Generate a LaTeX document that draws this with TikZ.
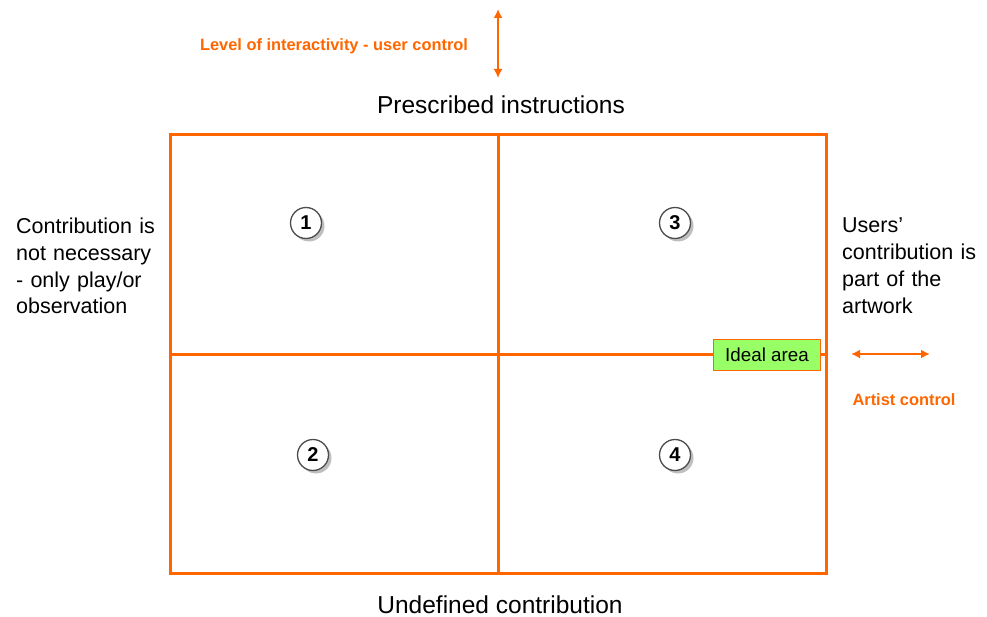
\documentclass[tikz,border=0pt]{standalone}
\usepackage{fontspec}
\setmainfont{Liberation Sans}
\usetikzlibrary{positioning,shadows,arrows.meta}
\definecolor{orng}{RGB}{255,102,0}
\definecolor{idealgreen}{RGB}{153,255,102}
\tikzstyle{grid} = [orng, line width = 3pt]
\tikzstyle{arrow} = [orng, line width = 2.5pt, {Latex[length=9pt,width=9pt]}-{Latex[length=9pt,width=9pt]}]
\tikzstyle{label} = [font = \fontsize{21.5}{26.7}\selectfont, align = left, text width = 160pt, anchor = north west, inner sep = 0pt]
\tikzstyle{title} = [font = \fontsize{24.5}{28}\selectfont, inner sep = 0pt]
\tikzstyle{ctrl} = [orng, font = \bfseries\fontsize{16.4}{19}\selectfont, inner sep = 0pt]
\tikzstyle{num} = [circle, draw = black!70, fill = white, line width = 1.3pt, minimum size = 31pt, inner sep = 0pt, font = \bfseries\fontsize{20}{22}\selectfont, drop shadow = {shadow xshift = 3pt, shadow yshift = -3pt, fill = black!50}]
\tikzstyle{ideal} = [rectangle, draw = orng, line width = 1pt, fill = idealgreen, minimum width = 107pt, minimum height = 31pt, font = \fontsize{18.8}{21}\selectfont]

\begin{document}
\begin{tikzpicture}
    [x = 1pt, y = -1pt]
  \useasboundingbox (0,0) rectangle (987,617);
  % quadrants
  \draw [grid] (170,135) rectangle (826,573);
  \draw [grid] (498,135) -- (498,573);
  \draw [grid] (170,354) -- (826,354);
  \node[ideal] (I) at (767,355) {Ideal area};
  \node[num] (Q1) at (306,223) {1};
  \node[num] (Q3) at (675,223) {3};
  \node[num] (Q2) at (313,455) {2};
  \node[num] (Q4) at (675,455) {4};
  % axis texts
  \node[title] (T) at (501,105) {Prescribed instructions};
  \node[title] (U) at (500,605) {Undefined contribution};
  \node[label] (L) at (16,218) {Contribution is\\not necessary\\- only play/or\\observation};
  \node[label] (R) at (842,218) {Users'\\contribution is\\part of the\\artwork};
  % controls
  \coordinate (Vt) at (498,9);
  \coordinate (Vb) at (498,78);
  \coordinate (Hl) at (851,354);
  \coordinate (Hr) at (930,354);
  \draw [arrow] (Vt) -- (Vb);
  \draw [arrow] (Hl) -- (Hr);
  \node[ctrl] (LC) at (334,46) {Level of interactivity - user control};
  \node[ctrl] (AC) at (904,400) {Artist control};
\end{tikzpicture}
\end{document}
